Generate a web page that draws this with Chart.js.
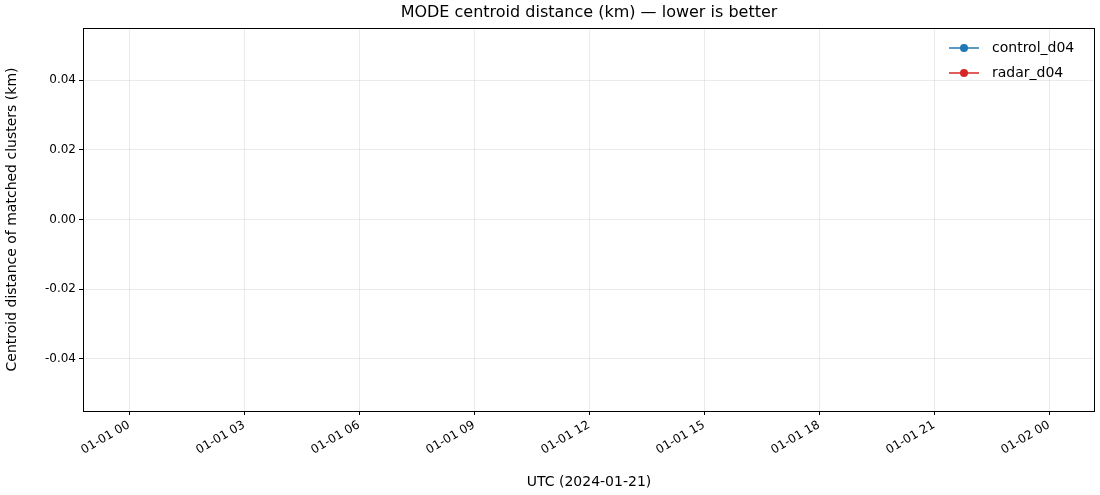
<!DOCTYPE html>
<html><head><meta charset="utf-8">
<script src="https://cdn.jsdelivr.net/npm/chart.js@4"></script>
<style>body{margin:0;background:#fff}</style>
</head><body>
<canvas id="c" width="1100" height="495"></canvas>
<script>
// hours since 2024-01-01 00:00 (no matched clusters -> empty series)
const seriesNames = ['control_d04', 'radar_d04'];
const seriesColors = ['#1f77b4', '#d62728'];
const controlValues = [];
const radarValues = [];
const xTickHours = [0, 3, 6, 9, 12, 15, 18, 21, 24];
const yTicks = [-0.04, -0.02, 0.00, 0.02, 0.04];

const font = {family: 'DejaVu Sans', size: 12};

function hourLabel(h) {
  const d = h >= 24 ? '02' : '01';
  const hh = String(h % 24).padStart(2, '0');
  return '01-' + d + ' ' + hh;
}

const overlay = {
  id: 'overlay',
  afterDraw(chart) {
    const c = chart.ctx, a = chart.chartArea;
    c.save();
    c.strokeStyle = '#000'; c.lineWidth = 1;
    c.strokeRect(a.left + 0.5, a.top + 0.5, a.right - a.left - 1, a.bottom - a.top);
    c.fillStyle = '#000';
    c.font = '16px DejaVu Sans';
    c.textAlign = 'center'; c.textBaseline = 'middle';
    c.fillText('MODE centroid distance (km) \u2014 lower is better', (a.left + a.right) / 2, 13);
    c.font = '14px DejaVu Sans';
    c.textAlign = 'left';
    chart.data.datasets.forEach((ds, i) => {
      const y = 48 + i * 25;
      c.strokeStyle = ds.borderColor; c.lineWidth = 1.5;
      c.beginPath(); c.moveTo(949, y); c.lineTo(979, y); c.stroke();
      c.fillStyle = ds.borderColor;
      c.beginPath(); c.arc(964, y, 4, 0, Math.PI * 2); c.fill();
      c.fillStyle = '#000';
      c.fillText(ds.label, 992, y);
    });
    c.restore();
  }
};

new Chart(document.getElementById('c'), {
  type: 'line',
  data: {
    datasets: [
      {label: seriesNames[0], data: controlValues, borderColor: seriesColors[0], backgroundColor: seriesColors[0]},
      {label: seriesNames[1], data: radarValues, borderColor: seriesColors[1], backgroundColor: seriesColors[1]}
    ]
  },
  options: {
    responsive: false, animation: false,
    layout: {padding: {top: 28, right: 5, left: 0, bottom: 0}},
    plugins: {legend: {display: false}, tooltip: {enabled: false}},
    scales: {
      x: {
        type: 'linear', min: -1.2, max: 25.2,
        afterBuildTicks: s => { s.ticks = xTickHours.map(v => ({value: v})); },
        afterFit: s => { s.height = 84; },
        ticks: {callback: v => hourLabel(v), minRotation: 30, maxRotation: 30, color: '#000', font: font},
        grid: {color: 'rgba(0,0,0,0.08)', tickColor: '#000', tickLength: 4},
        border: {display: false},
        title: {display: true, text: 'UTC (2024-01-21)', color: '#000', font: {family: 'DejaVu Sans', size: 14}, padding: {top: 0}}
      },
      y: {
        min: -0.055, max: 0.055,
        afterBuildTicks: s => { s.ticks = yTicks.map(v => ({value: v})); },
        afterFit: s => { s.width = 83; },
        ticks: {callback: v => v.toFixed(2), color: '#000', font: font},
        grid: {color: 'rgba(0,0,0,0.08)', tickColor: '#000', tickLength: 4},
        border: {display: false},
        title: {display: true, text: 'Centroid distance of matched clusters (km)', color: '#000', font: {family: 'DejaVu Sans', size: 14}, padding: {bottom: 0}}
      }
    }
  },
  plugins: [overlay]
});
</script>
</body></html>
